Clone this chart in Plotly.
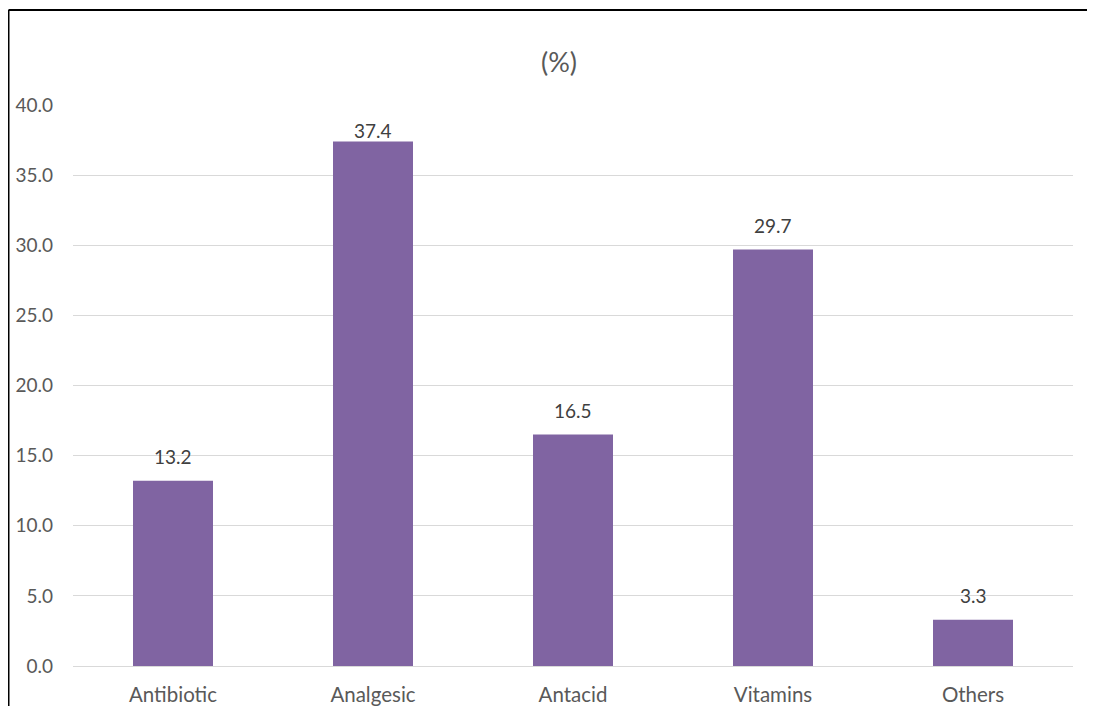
import plotly.graph_objects as go

categories = ["Antibiotic", "Analgesic", "Antacid", "Vitamins", "Others"]
values = [13.2, 37.4, 16.5, 29.7, 3.3]
label_shift = [24, 11, 24, 24, 24]
y_ticks = [0, 5, 10, 15, 20, 25, 30, 35, 40]

# page body has an 8px margin, so the figure is 8px smaller
W, H = 1087, 698
L, R, T, B = 65, 22, 97, 40
pw, ph = W - L - R, H - T - B

font = "Lato, Open Sans, sans-serif"
fs = 19

fig = go.Figure(go.Bar(
    x=categories, y=values, marker=dict(color="#8064a2", line=dict(width=0)),
    hoverinfo="skip"))

for c, v, s in zip(categories, values, label_shift):
    fig.add_annotation(x=c, y=v, text=f"{v:.1f}", showarrow=False,
                       yanchor="middle", yshift=s,
                       font=dict(family=font, size=fs, color="#404040"))

fig.add_annotation(x=(551 - L) / pw, y=(H - B - 54) / ph, xref="paper", yref="paper",
                   text="(%)", showarrow=False, xanchor="center", yanchor="middle",
                   font=dict(family=font, size=27, color="#595959"))

bx = (0.5 - L) / pw
ty = (H - B - 2) / ph
fig.add_shape(type="line", xref="paper", yref="paper", x0=bx, x1=(W + 5 - L) / pw,
              y0=ty, y1=ty, line=dict(color="black", width=2))
fig.add_shape(type="line", xref="paper", yref="paper", x0=bx, x1=bx,
              y0=ty, y1=-(B + 5) / ph, line=dict(color="black", width=2))

fig.update_layout(
    width=W, height=H, margin=dict(l=L, r=R, t=T, b=B, autoexpand=False),
    paper_bgcolor="white", plot_bgcolor="white", showlegend=False,
    bargap=0.6,
    font=dict(family=font, size=fs, color="#595959"),
    xaxis=dict(showgrid=False, showline=False, ticks="", ticklabelstandoff=14,
               automargin=False,
               tickfont=dict(size=20.5, color="#595959")),
    yaxis=dict(range=[0, 40], tickvals=y_ticks, ticktext=[f"{t:.1f}" for t in y_ticks],
               showgrid=True, gridcolor="#d9d9d9", gridwidth=1,
               zeroline=True, zerolinecolor="#d9d9d9", zerolinewidth=1,
               showline=False, ticks="", ticklabelstandoff=19, automargin=False,
               tickfont=dict(size=fs, color="#595959")),
)

fig.write_html("out.html")
